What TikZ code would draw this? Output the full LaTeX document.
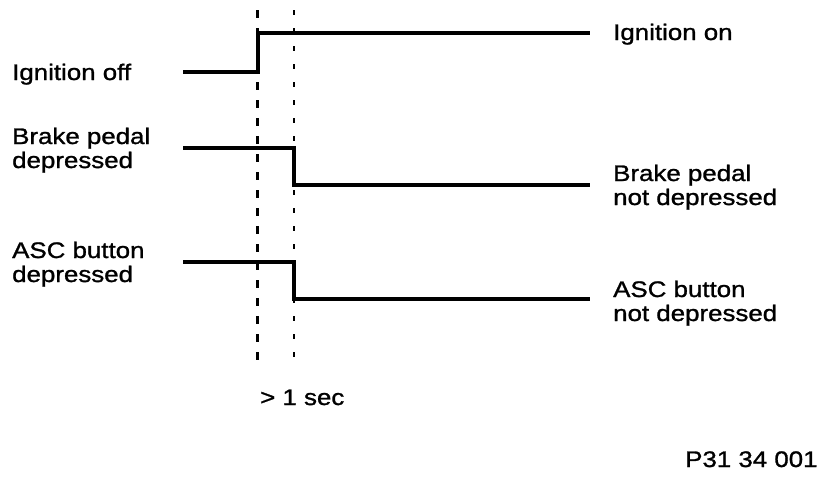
\documentclass[tikz,border=0pt]{standalone}
\usepackage{fontspec}
\setmainfont[FakeStretch=1.15,FakeBold=1.2]{Liberation Sans}
\begin{document}
\begin{tikzpicture}[x=1pt,y=-1pt,
  lbl/.style={anchor=base west,inner sep=0pt,font=\fontsize{22.5}{24}\selectfont,align=left},
  sig/.style={line width=3.6pt,line join=miter},
  dashA/.style={line width=3pt,dash pattern=on 8pt off 10pt},
  dashB/.style={line width=2.6pt,dash pattern=on 5pt off 13pt}]
\useasboundingbox (0,0) rectangle (832,480);
% dashed time markers
\coordinate (t1top) at (257,10);
\coordinate (t1bot) at (257,366);
\coordinate (t2top) at (294,10);
\coordinate (t2bot) at (294,366);
\draw[dashA] (t1top) -- (t1bot);
\draw[dashB] (t2top) -- (t2bot);
% ignition signal
\coordinate (ig0) at (183,72);
\coordinate (ig1) at (258,72);
\coordinate (ig2) at (258,33);
\coordinate (ig3) at (590,33);
\draw[sig] (ig0) -- (ig1) -- (ig2) -- (ig3);
% brake signal
\coordinate (br0) at (183,148);
\coordinate (br1) at (294,148);
\coordinate (br2) at (294,185);
\coordinate (br3) at (590,185);
\draw[sig] (br0) -- (br1) -- (br2) -- (br3);
% ASC signal
\coordinate (as0) at (183,262);
\coordinate (as1) at (294,262);
\coordinate (as2) at (294,299);
\coordinate (as3) at (590,299);
\draw[sig] (as0) -- (as1) -- (as2) -- (as3);
% labels (multi-line nodes: base = last line)
\node[lbl] (igoff) at (12,80) {Ignition off};
\node[lbl] (igon) at (613,40) {Ignition on};
\node[lbl] (brL) at (12,168) {Brake pedal\\depressed};
\node[lbl] (brR) at (613,205) {Brake pedal\\not depressed};
\node[lbl] (asL) at (12,282) {ASC button\\depressed};
\node[lbl] (asR) at (613,321) {ASC button\\not depressed};
\node[lbl] (sec) at (260,405) {> 1 sec};
\node[lbl] (pnum) at (685,467) {P31 34 001};
\end{tikzpicture}
\end{document}
